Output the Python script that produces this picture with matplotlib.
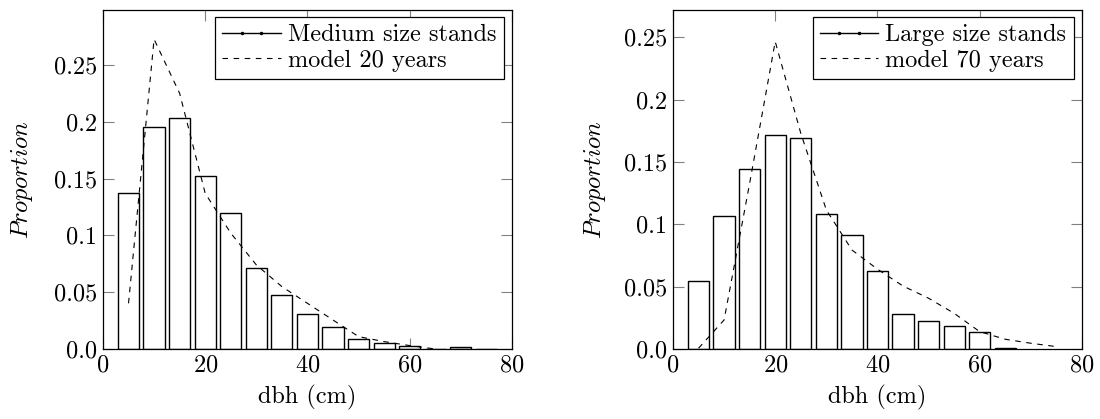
import matplotlib
matplotlib.use('Agg')
import matplotlib.pyplot as plt
from matplotlib.lines import Line2D
from matplotlib.legend_handler import HandlerLine2D

# --- данные ---
dbh_left = [5, 10, 15, 20, 25, 30, 35, 40, 45, 50, 55, 60, 65, 70, 75]
prop_medium = [0.1376, 0.195, 0.2036, 0.1526, 0.1194, 0.071, 0.0475, 0.0305,
               0.0196, 0.0085, 0.0056, 0.0025, 0.0, 0.002, 0.0004]
model_x_left = [5, 10, 15, 20, 25, 30, 35, 40, 45, 50, 55, 60, 65]
model_20 = [0.0402, 0.2726, 0.225, 0.137, 0.102, 0.074, 0.0549, 0.0402,
            0.0255, 0.0109, 0.0065, 0.003, 0.0]

dbh_right = [5, 10, 15, 20, 25, 30, 35, 40, 45, 50, 55, 60, 65]
prop_large = [0.0545, 0.1069, 0.1446, 0.1714, 0.1692, 0.108, 0.0914, 0.0628,
              0.0278, 0.0222, 0.0187, 0.0134, 0.001]
model_x_right = [5, 10, 15, 20, 25, 30, 35, 40, 45, 50, 55, 60, 65, 70, 75]
model_70 = [0.0006, 0.0233, 0.133, 0.2465, 0.173, 0.1115, 0.0794, 0.064,
            0.0505, 0.0407, 0.0286, 0.0139, 0.0078, 0.0046, 0.0019]

x_ticks = [0, 20, 40, 60, 80]
y_ticks = [0.0, 0.05, 0.1, 0.15, 0.2, 0.25]
y_tick_labels = ['0.0', '0.05', '0.1', '0.15', '0.2', '0.25']

plt.rcParams['font.family'] = 'serif'
plt.rcParams['font.serif'] = ['cmr10']
plt.rcParams['mathtext.fontset'] = 'cm'
plt.rcParams['axes.formatter.use_mathtext'] = True
plt.rcParams['font.size'] = 17.5

fig = plt.figure(figsize=(11, 4.19), dpi=100)
ax_l = fig.add_axes([0.0936, 0.1671, 0.3718, 0.8091])
ax_r = fig.add_axes([0.6118, 0.1671, 0.3718, 0.8091])


def draw_panel(ax, xs, bars, mx, my, ymax, bar_label, model_label, ylab_pad):
    ax.bar(xs, bars, width=4.15, color='white', edgecolor='black', linewidth=1.0, zorder=2)
    ax.plot(mx, my, color='black', lw=0.8, linestyle=(0, (5, 5)), zorder=3)
    ax.set_xlim(0, 80)
    ax.set_ylim(0, ymax)
    ax.set_xticks(x_ticks)
    ax.set_yticks(y_ticks)
    ax.set_yticklabels(y_tick_labels)
    ax.tick_params(direction='in', top=True, right=True, length=8, width=0.8,
                   color='#808080', pad=4)
    for sp in ax.spines.values():
        sp.set_linewidth(0.9)
        sp.set_color('black')
    ax.set_xlabel('dbh (cm)', labelpad=6)
    ax.set_ylabel('$Proportion$', labelpad=ylab_pad)

    # легенда как в pgfplots: сплошная линия с двумя точками и пунктир
    h_line = Line2D([], [], color='black', lw=1.0)
    h_dots = Line2D([], [], color='black', linestyle='none', marker='.', markersize=3)
    h_model = Line2D([], [], color='black', lw=0.8, linestyle=(0, (5, 5)))
    leg = ax.legend([(h_line, h_dots), h_model], [bar_label, model_label],
                    loc='upper right', bbox_to_anchor=(0.98, 0.98),
                    borderaxespad=0, fancybox=False, framealpha=1,
                    edgecolor='black', handlelength=2.4,
                    handletextpad=0.3, labelspacing=0.15, borderpad=0.3,
                    handler_map={h_dots: HandlerLine2D(numpoints=2, marker_pad=0.8)})
    leg.get_frame().set_linewidth(0.9)


draw_panel(ax_l, dbh_left, prop_medium, model_x_left, model_20, 0.2984,
           'Medium size stands', 'model 20 years', 14)
draw_panel(ax_r, dbh_right, prop_large, model_x_right, model_70, 0.2719,
           'Large size stands', 'model 70 years', 12)

fig.savefig('out.png', dpi=100)
